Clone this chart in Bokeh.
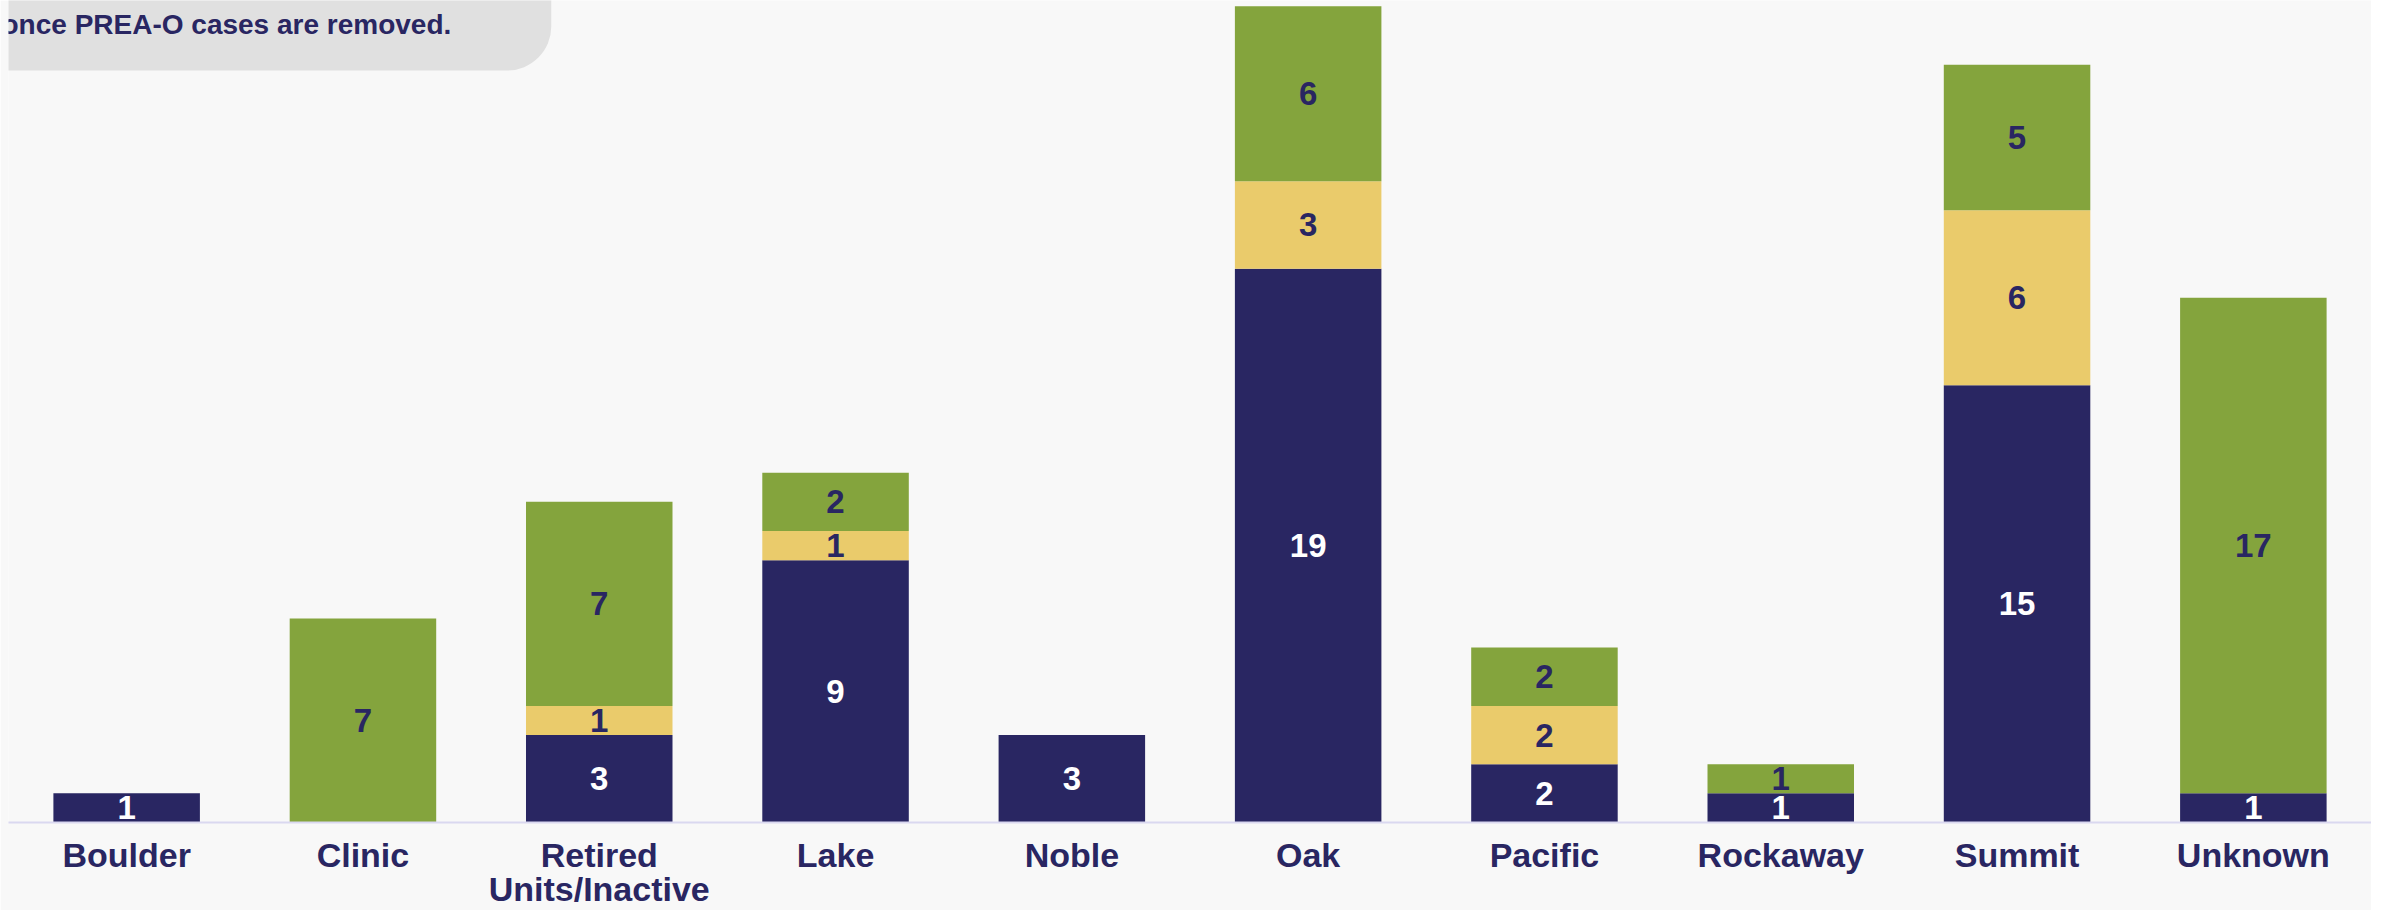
from bokeh.plotting import figure
from bokeh.models import ColumnDataSource, FactorRange, Range1d, Label
from bokeh.core.properties import value
from bokeh.embed import file_html
from bokeh.resources import INLINE

categories = ["Boulder", "Clinic", "Retired\nUnits/Inactive", "Lake", "Noble",
              "Oak", "Pacific", "Rockaway", "Summit", "Unknown"]
series_a = [1, 0, 3, 9, 3, 19, 2, 1, 15, 1]
series_b = [0, 0, 1, 1, 0, 3, 2, 0, 6, 0]
series_c = [0, 7, 7, 2, 0, 6, 2, 1, 5, 17]
series_names = ["series_a", "series_b", "series_c"]
colors = ["#292662", "#EACB6B", "#84A43D"]
label_colors = ["#FFFFFF", "#292662", "#292662"]
note_text = "once PREA-O cases are removed."

NAVY = "#292662"
BG = "#F8F8F8"
Y_END = 28.2
FRAME_H = 822

data = {"cat": categories, "series_a": series_a, "series_b": series_b, "series_c": series_c}
source = ColumnDataSource(data)

p = figure(x_range=FactorRange(*categories, range_padding=0),
           y_range=Range1d(0, Y_END),
           frame_width=2363, frame_height=FRAME_H, output_backend="svg", toolbar_location=None,
           min_border_left=8, min_border_right=0, min_border_top=0, min_border_bottom=0,
           background_fill_color=BG, border_fill_color=BG, outline_line_color=None)

p.vbar_stack(series_names, x="cat", width=0.62, color=colors, line_color=None, source=source)

# value labels
lx, ly, lt, lc = [], [], [], []
arrays = [series_a, series_b, series_c]
for i, c in enumerate(categories):
    base = 0
    for k, arr in enumerate(arrays):
        v = arr[i]
        if v > 0:
            lx.append(c)
            ly.append(base + v / 2)
            lt.append(str(v))
            lc.append(label_colors[k])
        base += v
lsrc = ColumnDataSource(dict(x=lx, y=ly, t=lt, c=lc))
p.text(x="x", y="y", text="t", text_color="c", source=lsrc, text_align="center",
       text_baseline="middle", text_font=value("Liberation Sans"), text_font_style="bold",
       text_font_size="33px")

# note box in top-left (label with its own rounded background)
px_per_unit = FRAME_H / Y_END
note = Label(x=-28, x_units="screen", y=Y_END + 30 / px_per_unit, text=note_text,
             text_font="Liberation Sans", text_font_style="bold", text_font_size="28px",
             text_color=NAVY, text_align="left", text_baseline="top",
             background_fill_color="#E0E0E0", background_fill_alpha=1.0,
             padding=dict(left=21, right=100, top=38, bottom=31),
             border_radius=dict(top_left=0, top_right=0, bottom_right=44, bottom_left=0))
p.add_layout(note)

p.yaxis.visible = False
p.xgrid.grid_line_color = None
p.ygrid.grid_line_color = None
p.xaxis.axis_line_color = "#DAD8F0"
p.xaxis.axis_line_width = 2
p.xaxis.major_tick_line_color = None
p.xaxis.minor_tick_line_color = None
p.xaxis.major_tick_out = 0
p.xaxis.major_tick_in = 0
p.xaxis.major_label_text_font = "Liberation Sans"
p.xaxis.major_label_text_font_style = "bold"
p.xaxis.major_label_text_font_size = "34px"
p.xaxis.major_label_text_color = NAVY
p.xaxis.major_label_text_line_height = 0.9
p.xaxis.major_label_standoff = 13

open("out.html", "w").write(file_html(p, INLINE))
